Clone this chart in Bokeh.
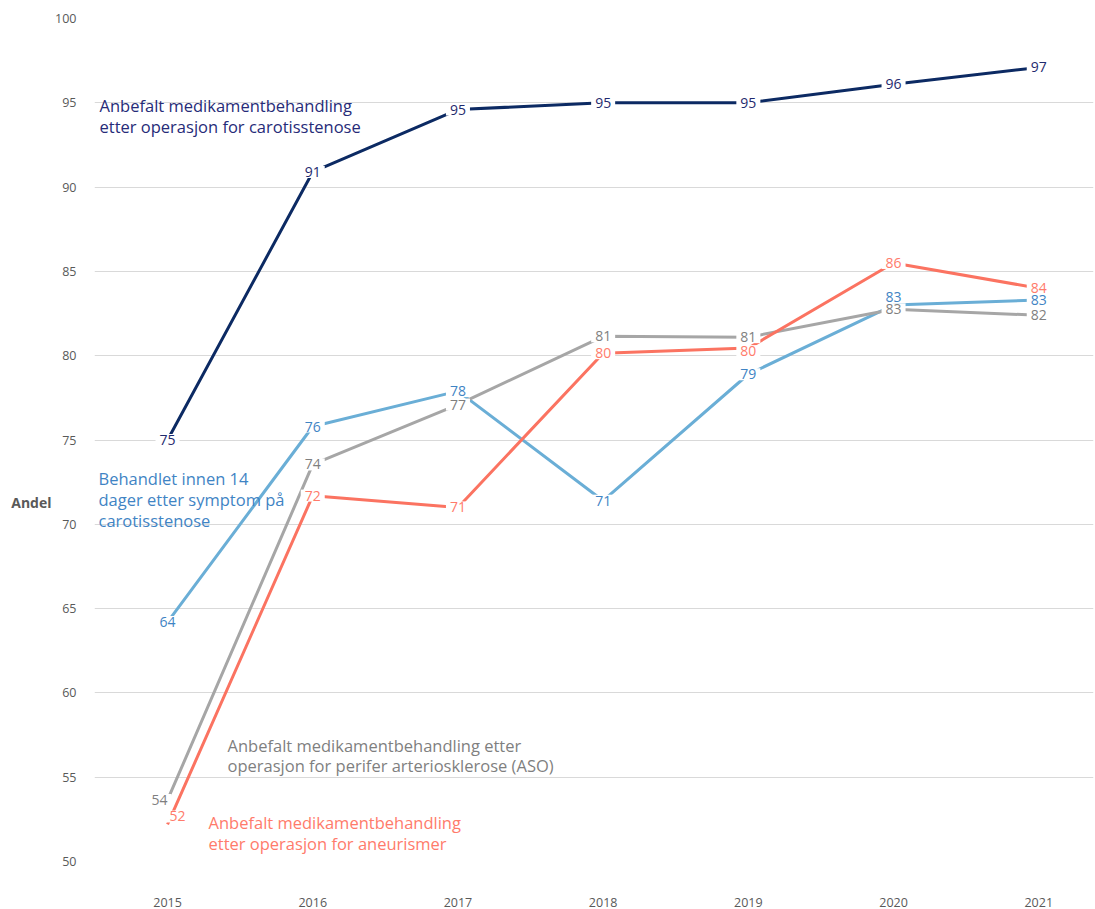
from bokeh.plotting import figure
from bokeh.models import FixedTicker, Label, ColumnDataSource, LinearAxis
from bokeh.core.properties import value
from bokeh.embed import file_html
from bokeh.resources import INLINE

years = [2015, 2016, 2017, 2018, 2019, 2020, 2021]
carotis_med = [75.0, 90.9, 94.6, 95.0, 95.0, 96.1, 97.1]
carotis_14d = [64.2, 75.8, 77.9, 71.4, 78.9, 83.0, 83.3]
aso_med = [53.65, 73.55, 77.1, 81.15, 81.1, 82.75, 82.4]
aneurisme_med = [52.2, 71.7, 71.0, 80.15, 80.45, 85.5, 84.0]
y_ticks = [50, 55, 60, 65, 70, 75, 80, 85, 90, 95, 100]

FONT = "Open Sans"

W, H = 1095, 909
LEFT, TOP, BOTTOM, RIGHT = 94, 18, 48, 2
X0, X1 = 2014.497, 2021.377

p = figure(width=W, height=H, output_backend="svg", toolbar_location=None,
           x_range=(X0, X1), y_range=(50, 100),
           min_border_left=LEFT, min_border_top=TOP, min_border_bottom=BOTTOM,
           min_border_right=RIGHT)
p.outline_line_color = None
p.background_fill_color = "white"
p.border_fill_color = "white"

p.xgrid.grid_line_color = None
p.ygrid.grid_line_color = "#d9d9d9"
p.ygrid.grid_line_width = 1
p.yaxis.ticker = FixedTicker(ticks=y_ticks)
p.xaxis.ticker = FixedTicker(ticks=years)
for ax in (p.xaxis, p.yaxis):
    ax.axis_line_color = None
    ax.major_tick_line_color = None
    ax.minor_tick_line_color = None
    ax.major_label_text_font = FONT
    ax.major_label_text_font_size = "12.5px"
    ax.major_label_text_color = "#595959"
p.yaxis.major_label_standoff = 12
p.xaxis.major_label_standoff = 30

# axis title "Andel" placed beside the value axis, horizontal
title_axis = LinearAxis(ticker=FixedTicker(ticks=[71.3]),
                        major_label_overrides={71.3: "Andel"},
                        axis_line_color=None, major_tick_line_color=None,
                        minor_tick_line_color=None,
                        major_label_text_font=FONT,
                        major_label_text_font_size="14px",
                        major_label_text_font_style="bold",
                        major_label_text_color="#595959",
                        major_label_standoff=-5)
p.add_layout(title_axis, "left")

# reference-pixel helpers for placing annotation text
def dx(px):
    return X0 + (px - 94) / 145.2
def dy(py):
    return 50 + (861 - py) / 16.84

series = [
    (carotis_med, "#0c2a63", "#1f2a6e"),
    (carotis_14d, "#6aaed6", "#3f84c4"),
    (aso_med, "#a6a6a6", "#7f7f7f"),
    (aneurisme_med, "#fb7361", "#ff7b6b"),
]
# label offsets (screen px) for labels moved off their point
offsets = {
    (1, 5): (0, -8),
    (2, 0): (-8, 0),
    (3, 0): (10, -8),
    (3, 4): (0, 3),
}

for si, (vals, lc, tc) in enumerate(series):
    p.line(years, vals, line_color=lc, line_width=3)

for si, (vals, lc, tc) in enumerate(series):
    xo = [offsets.get((si, i), (0, 0))[0] for i in range(len(years))]
    yo = [offsets.get((si, i), (0, 0))[1] for i in range(len(years))]
    src = ColumnDataSource(dict(x=years, y=vals,
                                t=[str(int(round(v))) for v in vals],
                                xo=xo, yo=yo))
    p.text(x="x", y="y", text="t", source=src, x_offset="xo", y_offset="yo",
           text_align="center", text_baseline="middle",
           text_font=value(FONT), text_font_size="14px", text_color=tc,
           background_fill_color="white", padding=(4, 1))

def note(lines, px, py0, step, color):
    for k, s in enumerate(lines):
        p.add_layout(Label(x=dx(px), y=dy(py0 + k * step), text=s,
                           text_font=FONT, text_font_size="16.5px",
                           text_color=color, text_align="left",
                           text_baseline="middle"))

note(["Anbefalt medikamentbehandling", "etter operasjon for carotisstenose"],
     99, 106, 20.5, "#262b78")
note(["Behandlet innen 14", "dager etter symptom på", "carotisstenose"],
     98, 478, 21, "#3f84c4")
note(["Anbefalt medikamentbehandling etter",
      "operasjon for perifer arteriosklerose (ASO)"],
     227, 745, 20.5, "#7f7f7f")
note(["Anbefalt medikamentbehandling", "etter operasjon for aneurismer"],
     208, 822, 21, "#ff7b6b")

open("out.html", "w").write(file_html(p, INLINE))
